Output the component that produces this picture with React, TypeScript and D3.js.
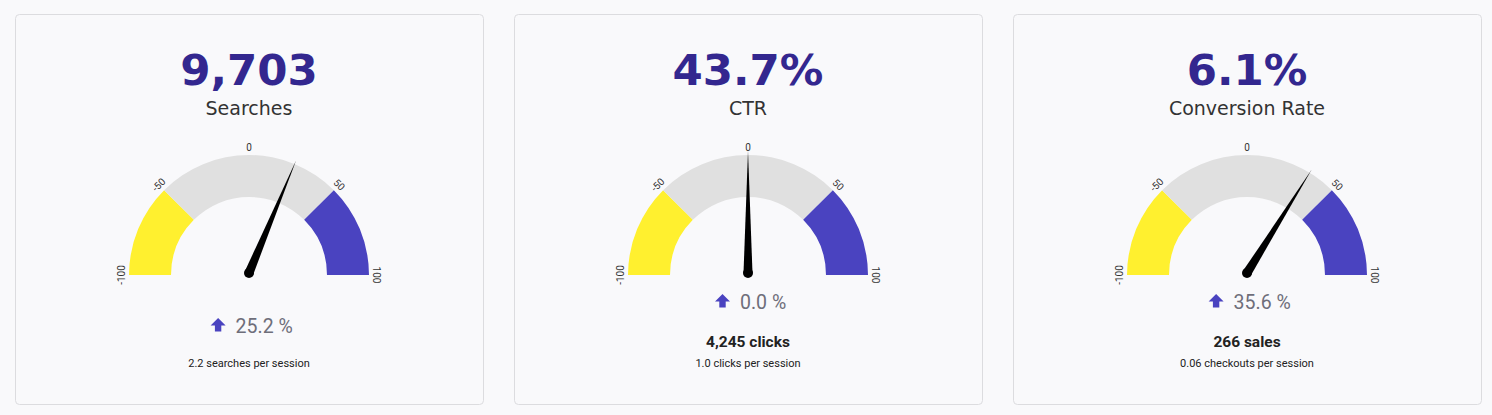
import React from "react";
import * as d3 from "d3";

const titles = ["Searches", "CTR", "Conversion Rate"];
const mainValues = ["9,703", "43.7%", "6.1%"];
const changes = [25.2, 0.0, 35.6];
const countLabels: (string | null)[] = [null, "4,245 clicks", "266 sales"];
const perSessionLabels = ["2.2 searches per session", "1.0 clicks per session", "0.06 checkouts per session"];
const gaugeTicks = [-100, -50, 0, 50, 100];
const bandStops = [-100, -50, 50, 100];
const bandColors = ["#fff02f", "#e0e0e0", "#4a43c0"];

const W = 1492;
const H = 415;
const cardX0 = 15.5;
const cardW = 468;
const cardGap = 31;
const cardY = 14.5;
const cardH = 390;
const R = 120;
const r = 78;
const gaugeCy = 275;

const angle = d3.scaleLinear().domain([-100, 100]).range([-Math.PI / 2, Math.PI / 2]);
const arcGen = d3.arc<{ a0: number; a1: number }>()
  .innerRadius(r)
  .outerRadius(R)
  .startAngle((d) => d.a0)
  .endAngle((d) => d.a1);

function Needle({ value }: { value: number }) {
  const a = angle(value);
  const L = 122;
  const w = 4.5;
  const tip = [L * Math.sin(a), -L * Math.cos(a)];
  const px = Math.cos(a), py = Math.sin(a);
  const p1 = [w * px, w * py];
  const p2 = [-w * px, -w * py];
  const path = `M${p1[0]},${p1[1]} L${tip[0]},${tip[1]} L${p2[0]},${p2[1]} Z`;
  return (
    <g transform="translate(0,-2)">
      <path d={path} fill="#000" />
      <circle r={5} fill="#000" />
    </g>
  );
}

function UpArrow({ x, y }: { x: number; y: number }) {
  return (
    <path
      transform={`translate(${x},${y})`}
      d="M0,-7 L7.5,0.5 L3.2,0.5 L3.2,6.5 L-3.2,6.5 L-3.2,0.5 L-7.5,0.5 Z"
      fill="#4a43c0"
    />
  );
}

function Card({ i }: { i: number }) {
  const x = cardX0 + i * (cardW + cardGap);
  const cx = x + cardW / 2 - 0.5;
  const hasCount = countLabels[i] !== null;
  const trendY = hasCount ? 302 : 326;
  const changeText = `${changes[i].toFixed(1)} %`;
  const bands = bandColors.map((c, k) => ({ a0: angle(bandStops[k]), a1: angle(bandStops[k + 1]), c }));
  const trendW = changeText.length * 10.8;
  const groupW = 15 + 10 + trendW;
  const startX = cx - groupW / 2 + 6.5;
  return (
    <g>
      <rect x={x} y={cardY} width={cardW} height={cardH} rx={4} fill="#f9f9fb" stroke="#dcdcdf" />
      <text x={cx} y={85} textAnchor="middle" fontFamily="DejaVu Sans" fontWeight="bold" fontSize={43.5} fill="#33278f">
        {mainValues[i]}
      </text>
      <text x={cx} y={115} textAnchor="middle" fontFamily="DejaVu Sans" fontSize={19} fill="#333">
        {titles[i]}
      </text>
      <g transform={`translate(${cx},${gaugeCy})`}>
        {bands.map((b, k) => (
          <path key={k} d={arcGen(b) as string} fill={b.c} />
        ))}
        {gaugeTicks.map((t) => {
          const a = angle(t);
          const rr = R + 4;
          const tx = rr * Math.sin(a);
          const ty = -rr * Math.cos(a);
          return (
            <text
              key={t}
              transform={`translate(${tx},${ty}) rotate(${(a * 180) / Math.PI})`}
              textAnchor="middle"
              fontFamily="Roboto"
              fontSize={10}
              fill="#333"
            >
              {t}
            </text>
          );
        })}
        <Needle value={changes[i]} />
      </g>
      <UpArrow x={startX + 7.5} y={trendY - 1} />
      <text x={startX + 25} y={trendY + 7} fontFamily="Roboto" fontSize={19.5} fill="#6e6e7a">
        {changeText}
      </text>
      {hasCount && (
        <text x={cx} y={347} textAnchor="middle" fontFamily="Roboto" fontWeight="bold" fontSize={15.5} fill="#222">
          {countLabels[i]}
        </text>
      )}
      <text x={cx} y={367} textAnchor="middle" fontFamily="Roboto" fontSize={11} fill="#222">
        {perSessionLabels[i]}
      </text>
    </g>
  );
}

export default function App() {
  return (
    <svg
      width={W}
      height={H}
      style={{ position: "absolute", left: 0, top: 0, background: "#f9f9fb" }}
    >
      {titles.map((_, i) => (
        <Card key={i} i={i} />
      ))}
    </svg>
  );
}
